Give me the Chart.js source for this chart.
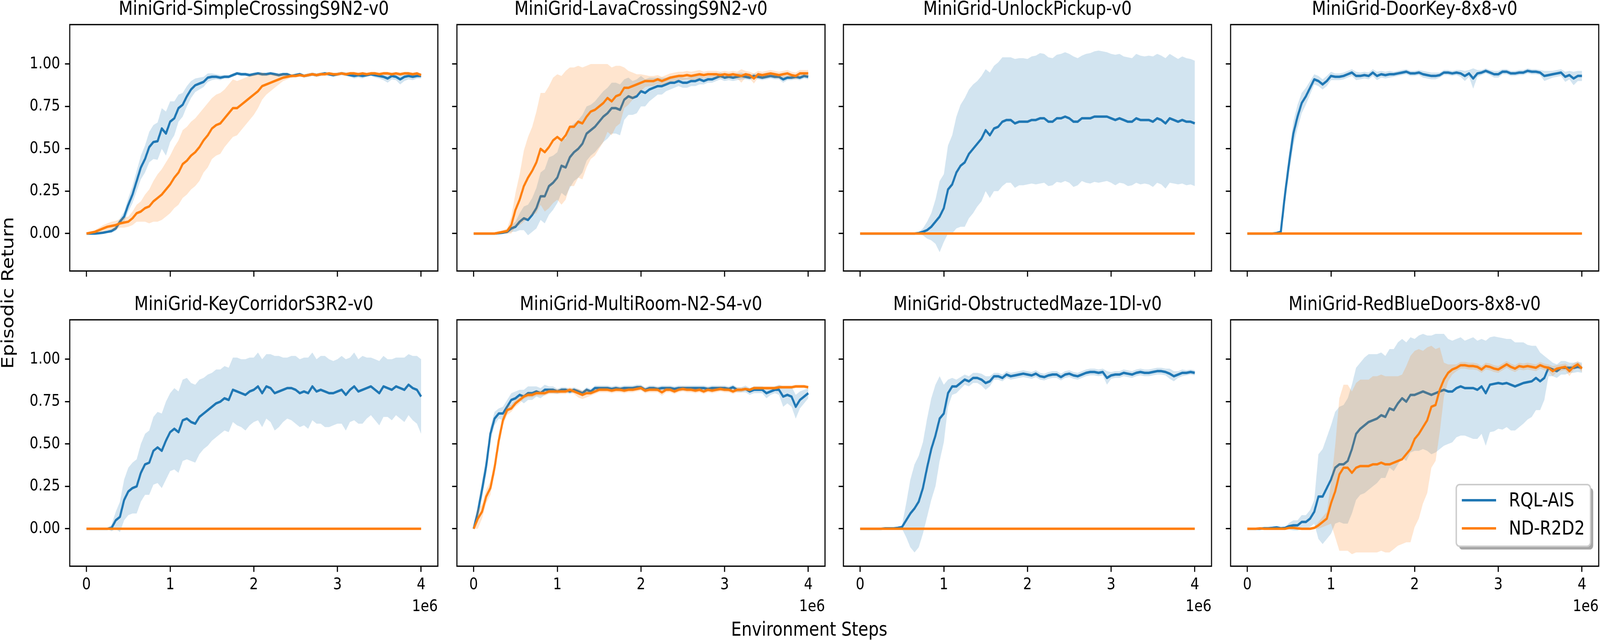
<!DOCTYPE html>
<html>
<head>
<meta charset="utf-8">
<title>MiniGrid learning curves</title>
<script src="https://cdn.jsdelivr.net/npm/chart.js@4.4.1/dist/chart.umd.min.js"></script>
<style>
  html, body { margin: 0; padding: 0; background: #fff; overflow: hidden; }
  #page { position: relative; overflow: hidden; }
  #figure { position: absolute; left: 0; top: 0; width: 4864px; height: 1639px; overflow: hidden;
    transform-origin: 0 0; font-family: "DejaVu Sans", sans-serif; }
  #figure canvas { position: absolute; }
  .figlabel { position: absolute; font-size: 50px; line-height: 50px; white-space: nowrap; color: #000; }
  #xlabel { left: 2460px; top: 1586px; transform: translateX(-50%); }
  #ylabel { left: 23px; top: 750px; transform: translate(-50%, -50%) rotate(-90deg); }
</style>
</head>
<body>
<div id="page">
  <div id="figure">
    <div class="figlabel" id="xlabel">Environment Steps</div>
    <div class="figlabel" id="ylabel">Episodic Return</div>
  </div>
</div>
<script>
// x grid, in units of 1e6 environment steps
const stepsM = [0,0.05,0.1,0.15,0.2,0.25,0.3,0.35,0.4,0.45,0.5,0.55,0.6,0.65,0.7,0.75,0.8,0.85,0.9,0.95,
  1,1.05,1.1,1.15,1.2,1.25,1.3,1.35,1.4,1.45,1.5,1.55,1.6,1.65,1.7,1.75,1.8,1.85,1.9,1.95,
  2,2.05,2.1,2.15,2.2,2.25,2.3,2.35,2.4,2.45,2.5,2.55,2.6,2.65,2.7,2.75,2.8,2.85,2.9,2.95,
  3,3.05,3.1,3.15,3.2,3.25,3.3,3.35,3.4,3.45,3.5,3.55,3.6,3.65,3.7,3.75,3.8,3.85,3.9,3.95,4];

const envNames = ['MiniGrid-SimpleCrossingS9N2-v0', 'MiniGrid-LavaCrossingS9N2-v0', 'MiniGrid-UnlockPickup-v0',
  'MiniGrid-DoorKey-8x8-v0', 'MiniGrid-KeyCorridorS3R2-v0', 'MiniGrid-MultiRoom-N2-S4-v0',
  'MiniGrid-ObstructedMaze-1Dl-v0', 'MiniGrid-RedBlueDoors-8x8-v0'];
const seriesLabels = ['RQL-AIS', 'ND-R2D2'];
const xTicks = [0, 1, 2, 3, 4];
const yTicks = [0, 0.25, 0.5, 0.75, 1];

// ND-R2D2 never leaves zero in four of the tasks
const flatZero = [0,0,0,0,0,0,0,0,0,0, 0,0,0,0,0,0,0,0,0,0, 0,0,0,0,0,0,0,0,0,0, 0,0,0,0,0,0,0,0,0,0,
  0,0,0,0,0,0,0,0,0,0, 0,0,0,0,0,0,0,0,0,0, 0,0,0,0,0,0,0,0,0,0, 0,0,0,0,0,0,0,0,0,0, 0];

// SimpleCrossingS9N2
const scRqlMean = [0,0,0,0.002,0.005,0.01,0.015,0.03,0.07,0.1,
  0.17,0.23,0.31,0.39,0.44,0.51,0.54,0.545,0.62,0.59,
  0.66,0.68,0.74,0.76,0.81,0.85,0.875,0.885,0.895,0.92,
  0.925,0.925,0.92,0.925,0.925,0.935,0.945,0.94,0.94,0.935,
  0.94,0.945,0.94,0.94,0.945,0.94,0.935,0.94,0.94,0.93,
  0.935,0.94,0.93,0.935,0.94,0.935,0.94,0.945,0.94,0.935,
  0.94,0.945,0.94,0.935,0.93,0.935,0.93,0.935,0.94,0.935,
  0.93,0.925,0.915,0.93,0.925,0.91,0.925,0.93,0.925,0.93, 0.93];
const scRqlStd = [0,0,0.002,0.003,0.005,0.007,0.01,0.015,0.02,0.03,
  0.04,0.05,0.06,0.07,0.08,0.09,0.1,0.11,0.12,0.13,
  0.12,0.1,0.08,0.07,0.06,0.05,0.04,0.035,0.03,0.025,
  0.02,0.015,0.015,0.01,0.01,0.01,0.01,0.01,0.01,0.01,
  0.01,0.01,0.01,0.01,0.01,0.01,0.01,0.01,0.01,0.01,
  0.01,0.01,0.01,0.01,0.01,0.01,0.01,0.01,0.01,0.01,
  0.01,0.01,0.01,0.01,0.015,0.015,0.015,0.01,0.01,0.015,
  0.015,0.02,0.025,0.02,0.02,0.03,0.025,0.02,0.02,0.015, 0.015];
const scNdMean = [0,0.005,0.01,0.02,0.03,0.04,0.045,0.05,0.06,0.065,
  0.07,0.09,0.12,0.13,0.15,0.16,0.19,0.21,0.23,0.26,
  0.29,0.33,0.36,0.41,0.43,0.46,0.48,0.51,0.55,0.58,
  0.62,0.64,0.65,0.68,0.71,0.74,0.74,0.76,0.78,0.8,
  0.82,0.84,0.87,0.88,0.89,0.9,0.91,0.92,0.925,0.93,
  0.93,0.935,0.93,0.935,0.94,0.935,0.94,0.94,0.945,0.94,
  0.94,0.945,0.94,0.945,0.945,0.94,0.945,0.94,0.945,0.945,
  0.94,0.945,0.945,0.94,0.945,0.94,0.945,0.945,0.94,0.945, 0.935];
const scNdStd = [0,0.005,0.01,0.015,0.02,0.02,0.025,0.025,0.025,0.03,
  0.03,0.04,0.05,0.06,0.08,0.1,0.12,0.14,0.15,0.16,
  0.17,0.18,0.19,0.2,0.2,0.2,0.2,0.2,0.19,0.19,
  0.18,0.18,0.18,0.17,0.17,0.17,0.16,0.15,0.14,0.13,
  0.12,0.1,0.08,0.06,0.05,0.04,0.03,0.02,0.015,0.01,
  0.01,0.01,0.01,0.01,0.01,0.01,0.01,0.01,0.01,0.01,
  0.01,0.01,0.01,0.01,0.01,0.01,0.01,0.01,0.01,0.01,
  0.01,0.01,0.01,0.01,0.01,0.01,0.01,0.01,0.01,0.01, 0.01];

// LavaCrossingS9N2
const lcRqlMean = [0,0,0,0,0,0,0.002,0.005,0.01,0.03,
  0.04,0.07,0.09,0.08,0.11,0.15,0.22,0.22,0.28,0.3,
  0.33,0.4,0.39,0.45,0.48,0.5,0.53,0.59,0.61,0.63,
  0.66,0.69,0.71,0.74,0.74,0.73,0.79,0.81,0.8,0.81,
  0.84,0.83,0.85,0.86,0.87,0.87,0.88,0.89,0.89,0.9,
  0.89,0.89,0.9,0.9,0.91,0.9,0.91,0.91,0.92,0.93,
  0.92,0.925,0.92,0.925,0.93,0.925,0.92,0.93,0.925,0.92,
  0.925,0.93,0.925,0.925,0.91,0.92,0.92,0.925,0.92,0.93, 0.925];
const lcRqlStd = [0,0,0,0,0,0,0.003,0.005,0.01,0.02,
  0.03,0.05,0.07,0.09,0.1,0.12,0.14,0.16,0.17,0.16,
  0.15,0.16,0.17,0.18,0.17,0.17,0.17,0.16,0.15,0.15,
  0.15,0.15,0.15,0.15,0.15,0.15,0.12,0.11,0.1,0.1,
  0.09,0.08,0.07,0.06,0.05,0.05,0.04,0.04,0.03,0.03,
  0.03,0.03,0.03,0.03,0.03,0.02,0.02,0.02,0.02,0.02,
  0.02,0.02,0.02,0.02,0.02,0.015,0.015,0.015,0.015,0.015,
  0.015,0.015,0.015,0.015,0.02,0.015,0.015,0.015,0.015,0.015, 0.015];
const lcNdMean = [0,0,0,0,0,0,0.005,0.01,0.015,0.05,
  0.14,0.2,0.28,0.33,0.37,0.42,0.5,0.48,0.51,0.55,
  0.57,0.55,0.58,0.63,0.63,0.66,0.65,0.69,0.72,0.73,
  0.75,0.77,0.8,0.78,0.81,0.82,0.86,0.86,0.87,0.88,
  0.89,0.9,0.9,0.9,0.91,0.9,0.91,0.92,0.925,0.93,
  0.93,0.935,0.93,0.935,0.94,0.935,0.94,0.94,0.94,0.935,
  0.94,0.935,0.94,0.935,0.93,0.94,0.935,0.915,0.94,0.935,
  0.94,0.945,0.94,0.935,0.94,0.945,0.935,0.93,0.945,0.945, 0.945];
const lcNdStd = [0,0,0,0,0,0,0.005,0.01,0.015,0.05,
  0.1,0.15,0.21,0.24,0.26,0.3,0.33,0.35,0.36,0.37,
  0.37,0.38,0.38,0.35,0.35,0.33,0.33,0.3,0.28,0.27,
  0.25,0.23,0.2,0.2,0.18,0.17,0.12,0.1,0.08,0.06,
  0.05,0.035,0.03,0.03,0.025,0.025,0.025,0.025,0.025,0.025,
  0.025,0.025,0.025,0.025,0.025,0.02,0.02,0.02,0.02,0.02,
  0.02,0.02,0.02,0.02,0.04,0.02,0.02,0.03,0.02,0.02,
  0.02,0.02,0.02,0.02,0.02,0.02,0.02,0.02,0.02,0.02, 0.02];

// UnlockPickup
const upRqlMean = [0,0,0,0,0,0,0,0,0,0,
  0,0,0,0,0.003,0.01,0.02,0.04,0.07,0.1,
  0.15,0.26,0.29,0.36,0.4,0.42,0.47,0.5,0.53,0.56,
  0.61,0.58,0.62,0.63,0.66,0.67,0.67,0.65,0.66,0.66,
  0.66,0.67,0.67,0.68,0.68,0.66,0.66,0.68,0.68,0.69,
  0.68,0.66,0.66,0.68,0.68,0.68,0.69,0.69,0.69,0.69,
  0.68,0.67,0.68,0.67,0.66,0.66,0.68,0.67,0.67,0.67,
  0.66,0.68,0.67,0.65,0.68,0.67,0.66,0.67,0.66,0.66, 0.65];
const upRqlStd = [0,0,0,0,0,0,0,0,0,0,
  0,0,0,0,0.005,0.02,0.05,0.08,0.13,0.21,
  0.2,0.26,0.29,0.33,0.36,0.38,0.38,0.38,0.37,0.37,
  0.36,0.37,0.37,0.38,0.38,0.37,0.37,0.38,0.375,0.375,
  0.37,0.375,0.38,0.385,0.38,0.38,0.375,0.375,0.38,0.38,
  0.38,0.385,0.375,0.37,0.38,0.385,0.385,0.39,0.385,0.38,
  0.38,0.385,0.38,0.375,0.38,0.375,0.38,0.38,0.375,0.38,
  0.385,0.38,0.38,0.385,0.38,0.375,0.37,0.375,0.375,0.37, 0.37];

// DoorKey-8x8
const dkRqlMean = [0,0,0,0,0,0,0,0.003,0.01,0.23,
  0.42,0.59,0.69,0.77,0.81,0.86,0.91,0.9,0.88,0.9,
  0.93,0.925,0.925,0.93,0.94,0.95,0.93,0.93,0.935,0.93,
  0.95,0.93,0.94,0.935,0.94,0.94,0.945,0.95,0.955,0.945,
  0.945,0.95,0.94,0.935,0.93,0.93,0.935,0.95,0.95,0.945,
  0.95,0.945,0.93,0.945,0.915,0.945,0.95,0.96,0.95,0.94,
  0.94,0.955,0.955,0.945,0.945,0.95,0.95,0.96,0.955,0.955,
  0.95,0.93,0.935,0.94,0.945,0.95,0.925,0.935,0.915,0.93, 0.93];
const dkRqlStd = [0,0,0,0,0,0,0,0.002,0.01,0.05,
  0.06,0.07,0.07,0.06,0.05,0.04,0.03,0.03,0.03,0.03,
  0.025,0.02,0.02,0.02,0.02,0.02,0.025,0.02,0.02,0.02,
  0.02,0.025,0.02,0.02,0.02,0.015,0.015,0.015,0.015,0.015,
  0.015,0.015,0.02,0.02,0.02,0.02,0.015,0.015,0.015,0.015,
  0.015,0.02,0.03,0.02,0.06,0.02,0.015,0.015,0.015,0.02,
  0.02,0.015,0.015,0.015,0.015,0.015,0.015,0.015,0.015,0.015,
  0.015,0.03,0.025,0.02,0.02,0.02,0.03,0.025,0.04,0.03, 0.03];

// KeyCorridorS3R2
const kcRqlMean = [0,0,0,0,0,0,0.005,0.05,0.07,0.17,
  0.22,0.24,0.25,0.33,0.38,0.39,0.46,0.48,0.46,0.52,
  0.57,0.59,0.57,0.64,0.65,0.63,0.62,0.66,0.68,0.7,
  0.72,0.74,0.75,0.77,0.76,0.82,0.81,0.8,0.79,0.81,
  0.82,0.84,0.8,0.84,0.83,0.8,0.81,0.82,0.83,0.83,
  0.82,0.8,0.81,0.8,0.84,0.81,0.82,0.81,0.8,0.8,
  0.81,0.82,0.79,0.82,0.84,0.81,0.82,0.83,0.84,0.82,
  0.8,0.84,0.83,0.82,0.84,0.83,0.82,0.85,0.83,0.82, 0.78];
const kcRqlStd = [0,0,0,0,0,0,0.02,0.05,0.09,0.12,
  0.14,0.15,0.16,0.17,0.18,0.19,0.2,0.21,0.22,0.23,
  0.23,0.24,0.24,0.24,0.24,0.23,0.23,0.22,0.21,0.21,
  0.2,0.2,0.19,0.19,0.19,0.19,0.2,0.2,0.21,0.2,
  0.19,0.2,0.2,0.19,0.2,0.22,0.21,0.19,0.18,0.19,
  0.2,0.2,0.2,0.21,0.2,0.19,0.2,0.21,0.2,0.19,
  0.19,0.2,0.21,0.19,0.2,0.19,0.2,0.18,0.17,0.18,
  0.19,0.18,0.17,0.18,0.17,0.18,0.19,0.18,0.19,0.2, 0.22];

// MultiRoom-N2-S4
const mrRqlMean = [0,0.1,0.23,0.37,0.56,0.65,0.68,0.68,0.72,0.76,
  0.77,0.79,0.78,0.8,0.8,0.81,0.8,0.82,0.82,0.82,
  0.81,0.82,0.82,0.81,0.82,0.81,0.8,0.82,0.81,0.83,
  0.83,0.83,0.83,0.825,0.83,0.825,0.83,0.83,0.83,0.835,
  0.835,0.82,0.83,0.83,0.825,0.83,0.83,0.83,0.825,0.83,
  0.83,0.83,0.83,0.83,0.83,0.83,0.825,0.83,0.83,0.83,
  0.83,0.825,0.835,0.82,0.82,0.825,0.81,0.82,0.82,0.82,
  0.8,0.81,0.82,0.82,0.78,0.79,0.78,0.72,0.76,0.78, 0.8];
const mrRqlStd = [0,0.04,0.05,0.05,0.04,0.04,0.03,0.04,0.04,0.04,
  0.04,0.03,0.04,0.04,0.04,0.03,0.03,0.03,0.02,0.02,
  0.015,0.015,0.015,0.015,0.015,0.015,0.015,0.015,0.015,0.015,
  0.015,0.015,0.015,0.015,0.015,0.015,0.015,0.015,0.015,0.015,
  0.015,0.015,0.015,0.015,0.015,0.015,0.015,0.015,0.015,0.015,
  0.015,0.015,0.015,0.015,0.015,0.015,0.015,0.015,0.015,0.015,
  0.015,0.015,0.015,0.015,0.015,0.02,0.02,0.02,0.02,0.02,
  0.03,0.02,0.02,0.03,0.06,0.05,0.06,0.07,0.05,0.04, 0.03];
const mrNdMean = [0,0.06,0.1,0.19,0.24,0.36,0.52,0.64,0.7,0.71,
  0.74,0.76,0.78,0.79,0.79,0.8,0.8,0.8,0.81,0.81,
  0.81,0.81,0.81,0.82,0.81,0.8,0.79,0.8,0.8,0.81,
  0.82,0.82,0.82,0.815,0.82,0.82,0.815,0.82,0.82,0.825,
  0.83,0.815,0.82,0.82,0.82,0.805,0.82,0.82,0.81,0.82,
  0.825,0.82,0.82,0.815,0.82,0.81,0.82,0.815,0.82,0.825,
  0.82,0.82,0.81,0.82,0.82,0.825,0.82,0.83,0.83,0.83,
  0.83,0.83,0.83,0.835,0.835,0.835,0.835,0.84,0.84,0.84, 0.835];
const mrNdStd = [0,0.06,0.04,0.04,0.04,0.04,0.04,0.03,0.03,0.02,
  0.02,0.02,0.015,0.015,0.015,0.015,0.015,0.015,0.015,0.015,
  0.015,0.015,0.015,0.015,0.015,0.025,0.025,0.025,0.015,0.015,
  0.015,0.015,0.015,0.015,0.015,0.015,0.015,0.015,0.015,0.015,
  0.015,0.015,0.015,0.015,0.015,0.02,0.015,0.015,0.015,0.015,
  0.015,0.015,0.015,0.015,0.015,0.015,0.015,0.015,0.015,0.015,
  0.015,0.015,0.015,0.015,0.015,0.01,0.01,0.01,0.01,0.01,
  0.01,0.01,0.01,0.01,0.01,0.01,0.01,0.01,0.01,0.01, 0.01];

// ObstructedMaze-1Dl
const omRqlMean = [0,0,0,0,0,0,0.002,0.002,0.002,0.005,
  0.01,0.05,0.09,0.12,0.16,0.24,0.36,0.47,0.55,0.65,
  0.68,0.8,0.84,0.84,0.86,0.88,0.87,0.89,0.89,0.88,
  0.86,0.87,0.9,0.9,0.89,0.91,0.9,0.905,0.91,0.915,
  0.91,0.905,0.915,0.9,0.895,0.905,0.91,0.91,0.895,0.91,
  0.915,0.905,0.9,0.91,0.92,0.925,0.925,0.92,0.925,0.89,
  0.905,0.91,0.91,0.92,0.915,0.91,0.92,0.925,0.92,0.92,
  0.925,0.93,0.93,0.925,0.915,0.9,0.91,0.92,0.92,0.925, 0.92];
const omRqlStd = [0,0,0,0,0,0,0.002,0.002,0.002,0.005,
  0.01,0.1,0.2,0.26,0.27,0.27,0.29,0.3,0.3,0.25,
  0.17,0.08,0.05,0.04,0.035,0.03,0.03,0.03,0.03,0.035,
  0.04,0.03,0.02,0.02,0.02,0.02,0.02,0.02,0.02,0.02,
  0.02,0.02,0.02,0.02,0.02,0.02,0.02,0.02,0.02,0.02,
  0.02,0.02,0.02,0.02,0.02,0.02,0.02,0.02,0.02,0.04,
  0.02,0.02,0.02,0.02,0.02,0.02,0.02,0.02,0.02,0.02,
  0.02,0.02,0.02,0.02,0.03,0.03,0.02,0.02,0.015,0.015, 0.015];

// RedBlueDoors-8x8
const rbRqlMean = [0,0,0,0,0.003,0.003,0.005,0.008,0.003,0.005,
  0.015,0.02,0.02,0.04,0.04,0.06,0.1,0.19,0.19,0.24,
  0.29,0.36,0.38,0.38,0.4,0.47,0.56,0.59,0.61,0.63,
  0.64,0.65,0.67,0.66,0.71,0.7,0.74,0.77,0.75,0.79,
  0.79,0.8,0.81,0.8,0.79,0.8,0.81,0.82,0.81,0.81,
  0.83,0.84,0.83,0.83,0.83,0.82,0.84,0.8,0.85,0.855,
  0.86,0.855,0.86,0.85,0.84,0.85,0.86,0.865,0.87,0.89,
  0.87,0.89,0.95,0.94,0.93,0.95,0.95,0.95,0.95,0.955, 0.95];
const rbRqlStd = [0,0.005,0.005,0.005,0.005,0.005,0.005,0.005,0.005,0.005,
  0.02,0.03,0.03,0.04,0.04,0.05,0.07,0.25,0.28,0.3,
  0.32,0.33,0.34,0.35,0.37,0.38,0.39,0.39,0.4,0.4,
  0.39,0.38,0.37,0.36,0.35,0.36,0.36,0.35,0.35,0.34,
  0.33,0.34,0.34,0.34,0.35,0.35,0.34,0.33,0.31,0.3,
  0.29,0.29,0.28,0.29,0.3,0.29,0.28,0.31,0.28,0.28,
  0.27,0.27,0.26,0.27,0.26,0.25,0.24,0.22,0.21,0.19,
  0.17,0.13,0.05,0.04,0.04,0.04,0.04,0.03,0.03,0.03, 0.03];
const rbNdMean = [0,0,0,0.002,0,0,0,0,0,0,
  0.005,0.005,0.002,0,0,0,0.005,0.02,0.04,0.06,
  0.15,0.22,0.32,0.36,0.36,0.33,0.36,0.37,0.37,0.37,
  0.38,0.38,0.39,0.38,0.38,0.39,0.4,0.41,0.44,0.47,
  0.53,0.56,0.6,0.64,0.72,0.73,0.82,0.88,0.92,0.94,
  0.95,0.965,0.965,0.96,0.96,0.955,0.94,0.96,0.955,0.945,
  0.94,0.955,0.97,0.955,0.945,0.96,0.955,0.96,0.955,0.95,
  0.965,0.955,0.95,0.93,0.945,0.95,0.955,0.93,0.955,0.97, 0.945];
const rbNdStd = [0,0.005,0.005,0.005,0.005,0.005,0.005,0.005,0.005,0.005,
  0.005,0.005,0.005,0.005,0.005,0.005,0.005,0.02,0.03,0.04,
  0.12,0.27,0.45,0.49,0.49,0.48,0.5,0.51,0.51,0.51,
  0.52,0.52,0.52,0.52,0.52,0.51,0.5,0.5,0.52,0.55,
  0.52,0.5,0.45,0.43,0.36,0.33,0.25,0.1,0.05,0.03,
  0.02,0.02,0.02,0.02,0.02,0.02,0.02,0.02,0.02,0.02,
  0.02,0.02,0.02,0.02,0.02,0.02,0.02,0.02,0.02,0.02,
  0.02,0.02,0.02,0.03,0.02,0.02,0.02,0.03,0.02,0.02, 0.02];

const rqlMeans = [scRqlMean, lcRqlMean, upRqlMean, dkRqlMean, kcRqlMean, mrRqlMean, omRqlMean, rbRqlMean];
const rqlStds = [scRqlStd, lcRqlStd, upRqlStd, dkRqlStd, kcRqlStd, mrRqlStd, omRqlStd, rbRqlStd];
const ndMeans = [scNdMean, lcNdMean, flatZero, flatZero, flatZero, mrNdMean, flatZero, rbNdMean];
const ndStds = [scNdStd, lcNdStd, null, null, null, mrNdStd, null, rbNdStd];

// look (matplotlib defaults at 300 dpi)
const PT = 300 / 72;
const lineColors = ['#1f77b4', '#ff7f0e'];
const bandColors = ['rgba(31,119,180,0.2)', 'rgba(255,127,14,0.2)'];
const FONT = '"DejaVu Sans", sans-serif';

// subplot geometry in figure pixels
const FIG_W = 4864, FIG_H = 1639;
const COL_LEFT = [212, 1389, 2564, 3741];
const ROW_TOP = [63, 819];
const PLOT_W = 1119, PLOT_H = 631;
const AXIS_W = 212, TOP_PAD = 63, BOTTOM_H = 150, RIGHT_PAD = 8;

Chart.defaults.font.family = FONT;
Chart.defaults.color = '#000';

function toPoints(values) {
    return values.map((v, i) => ({ x: stepsM[i], y: v }));
}

function bandEdge(mean, std, sign) {
    return mean.map((m, i) => ({ x: stepsM[i], y: m + sign * std[i] }));
}

// one run: shaded mean +- std band under its mean line
function seriesDatasets(mean, std, s) {
    const order = s === 0 ? 4 : 2;
    const sets = [];
    if (std) {
        sets.push({ data: bandEdge(mean, std, -1), borderWidth: 0, borderColor: 'rgba(0,0,0,0)',
            pointRadius: 0, fill: false, order: order });
        sets.push({ data: bandEdge(mean, std, 1), borderWidth: 0, borderColor: 'rgba(0,0,0,0)',
            pointRadius: 0, fill: '-1', backgroundColor: bandColors[s], order: order });
    }
    sets.push({ label: seriesLabels[s], data: toPoints(mean), borderColor: lineColors[s],
        borderWidth: 1.5 * PT, borderJoinStyle: 'round', pointRadius: 0, fill: false, order: order - 1 });
    return sets;
}

function roundedRect(ctx, x, y, w, h, r) {
    ctx.beginPath();
    ctx.moveTo(x + r, y);
    ctx.lineTo(x + w - r, y);
    ctx.arcTo(x + w, y, x + w, y + r, r);
    ctx.lineTo(x + w, y + h - r);
    ctx.arcTo(x + w, y + h, x + w - r, y + h, r);
    ctx.lineTo(x + r, y + h);
    ctx.arcTo(x, y + h, x, y + h - r, r);
    ctx.lineTo(x, y + r);
    ctx.arcTo(x, y, x + r, y, r);
    ctx.closePath();
}

function drawLegend(ctx, area) {
    const w = 408, h = 158;
    const x0 = area.right - 25 - w, y0 = area.bottom - 51 - h;
    roundedRect(ctx, x0 + 2 * PT, y0 + 2 * PT, w, h, 10);
    ctx.fillStyle = 'rgba(77,77,77,0.5)';
    ctx.fill();
    roundedRect(ctx, x0, y0, w, h, 10);
    ctx.fillStyle = '#fff';
    ctx.fill();
    ctx.lineWidth = 1.0 * PT;
    ctx.strokeStyle = '#cccccc';
    ctx.stroke();
    seriesLabels.forEach((label, i) => {
        const y = y0 + 40 + i * 72;
        ctx.beginPath();
        ctx.moveTo(x0 + 17, y);
        ctx.lineTo(x0 + 121, y);
        ctx.strokeStyle = lineColors[i];
        ctx.lineWidth = 1.5 * PT;
        ctx.stroke();
        ctx.fillStyle = '#000';
        ctx.font = (12 * PT) + 'px ' + FONT;
        ctx.textAlign = 'left';
        ctx.textBaseline = 'middle';
        ctx.fillText(label, x0 + 160, y + 3);
    });
}

// spines, title, offset text and legend
const mplFrame = {
    id: 'mplFrame',
    afterDraw(chart, args, opts) {
        const ctx = chart.ctx;
        const a = chart.chartArea;
        ctx.save();
        ctx.lineWidth = 0.8 * PT;
        ctx.strokeStyle = '#000';
        ctx.strokeRect(a.left, a.top, a.right - a.left, a.bottom - a.top);
        ctx.fillStyle = '#000';
        ctx.font = (12 * PT) + 'px ' + FONT;
        ctx.textAlign = 'center';
        ctx.textBaseline = 'alphabetic';
        ctx.fillText(opts.title, (a.left + a.right) / 2, a.top - 6 * PT);
        if (opts.offsetText) {
            ctx.font = (10 * PT) + 'px ' + FONT;
            ctx.textAlign = 'right';
            ctx.fillText('1e6', a.right, a.bottom + 115);
        }
        if (opts.legend) drawLegend(ctx, a);
        ctx.restore();
    }
};

function axisGrid() {
    return { display: true, drawOnChartArea: false, drawTicks: true, tickLength: 3.5 * PT,
        tickWidth: 0.8 * PT, lineWidth: 0.8 * PT, tickColor: '#000', color: '#000' };
}

// the window's CSS viewport is not 4864x1639 css px, so stretch the figure onto it
const page = document.getElementById('page');
const fig = document.getElementById('figure');
const viewW = document.documentElement.clientWidth || window.innerWidth;
const viewH = document.documentElement.clientHeight || window.innerHeight;
const scaleX = viewW / FIG_W;
const scaleY = viewH / FIG_H;
page.style.width = viewW + 'px';
page.style.height = viewH + 'px';
fig.style.transform = 'scale(' + scaleX + ',' + scaleY + ')';
const canvasRatio = (window.devicePixelRatio || 1) * Math.max(scaleX, scaleY);

envNames.forEach((name, k) => {
    const r = Math.floor(k / 4), c = k % 4;
    const canvas = document.createElement('canvas');
    canvas.width = AXIS_W + PLOT_W + RIGHT_PAD;
    canvas.height = TOP_PAD + PLOT_H + BOTTOM_H;
    canvas.style.width = canvas.width + 'px';
    canvas.style.height = canvas.height + 'px';
    canvas.style.left = (COL_LEFT[c] - AXIS_W) + 'px';
    canvas.style.top = (ROW_TOP[r] - TOP_PAD) + 'px';
    fig.appendChild(canvas);

    const datasets = seriesDatasets(rqlMeans[k], rqlStds[k], 0)
        .concat(seriesDatasets(ndMeans[k], ndStds[k], 1));

    new Chart(canvas, {
        type: 'line',
        data: { datasets },
        options: {
            responsive: false,
            animation: false,
            devicePixelRatio: canvasRatio,
            layout: { padding: { left: 0, top: TOP_PAD, right: RIGHT_PAD, bottom: 0 } },
            plugins: {
                legend: { display: false },
                tooltip: { enabled: false },
                mplFrame: { title: name, offsetText: r === 1, legend: k === 7 }
            },
            scales: {
                x: {
                    type: 'linear', min: -0.2, max: 4.2,
                    afterBuildTicks: s => { s.ticks = xTicks.map(v => ({ value: v })); },
                    afterFit: s => { s.height = BOTTOM_H; },
                    grid: axisGrid(),
                    border: { display: false },
                    ticks: { display: r === 1, padding: 9, maxRotation: 0, minRotation: 0,
                        font: { size: 10 * PT }, color: '#000', callback: v => String(v) }
                },
                y: {
                    type: 'linear', min: -0.221, max: 1.233,
                    afterBuildTicks: s => { s.ticks = yTicks.map(v => ({ value: v })); },
                    afterFit: s => { s.width = AXIS_W; },
                    grid: axisGrid(),
                    border: { display: false },
                    ticks: { display: c === 0, padding: 3.5 * PT,
                        font: { size: 10 * PT }, color: '#000', callback: v => v.toFixed(2) }
                }
            }
        },
        plugins: [mplFrame]
    });
});
</script>
</body>
</html>
